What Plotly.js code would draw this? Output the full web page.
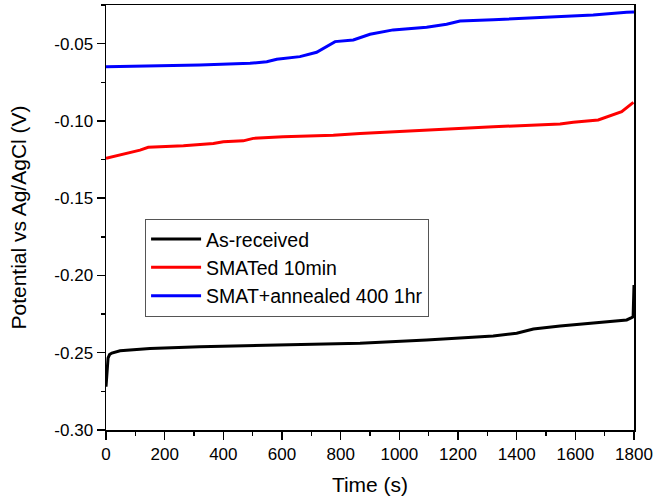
<!DOCTYPE html>
<html>
<head>
<meta charset="utf-8">
<script src="https://cdn.plot.ly/plotly-3.0.1.min.js"></script>
<style>html,body{margin:0;padding:0;background:#fff;}#chart{width:656px;height:500px;}</style>
</head>
<body>
<div id="chart"></div>
<script>
// Series names
const seriesNames = ["As-received", "SMATed 10min", "SMAT+annealed 400 1hr"];

// As-received (black)
const tBlack = [0, 2, 4, 7, 12, 20, 48, 100, 150, 320, 548, 700, 866, 1093, 1250, 1320, 1400, 1457, 1548, 1661, 1775, 1792, 1797, 1800];
const vBlack = [-0.272, -0.266, -0.258, -0.2535, -0.2512, -0.2502, -0.2487, -0.2478, -0.2472, -0.2461, -0.2450, -0.2445, -0.2439, -0.2418, -0.2402, -0.2392, -0.2374, -0.2346, -0.2327, -0.2310, -0.2288, -0.2273, -0.2268, -0.2062];

// SMATed 10min (red)
const tRed = [0, 48, 82, 116, 144, 264, 366, 400, 468, 502, 604, 775, 866, 979, 1093, 1116, 1320, 1548, 1593, 1678, 1718, 1758, 1798];
const vRed = [-0.1242, -0.1221, -0.1204, -0.1189, -0.1171, -0.1161, -0.1146, -0.1135, -0.1129, -0.1113, -0.1103, -0.1092, -0.1081, -0.1070, -0.1059, -0.1053, -0.1038, -0.1020, -0.1009, -0.0994, -0.0968, -0.0941, -0.0880];

// SMAT+annealed 400 1hr (blue)
const tBlue = [0, 320, 491, 548, 582, 661, 718, 752, 781, 843, 900, 979, 1093, 1161, 1207, 1320, 1434, 1548, 1661, 1775, 1800];
const vBlue = [-0.0649, -0.0638, -0.0627, -0.0617, -0.0601, -0.0584, -0.0556, -0.0519, -0.0487, -0.0476, -0.0439, -0.0411, -0.0394, -0.0374, -0.0353, -0.0346, -0.0335, -0.0325, -0.0314, -0.0297, -0.0295];

// Y tick values and labels (hyphen minus as in the original)
const yTickVals = [-0.30, -0.25, -0.20, -0.15, -0.10, -0.05];
const yTickText = ["-0.30", "-0.25", "-0.20", "-0.15", "-0.10", "-0.05"];

const FONT = "Liberation Sans, Arial, sans-serif";

const traces = [
  {x: tBlack, y: vBlack, name: seriesNames[0], type: "scatter", mode: "lines", line: {color: "#000000", width: 3}},
  {x: tRed, y: vRed, name: seriesNames[1], type: "scatter", mode: "lines", line: {color: "#ff0000", width: 3}},
  {x: tBlue, y: vBlue, name: seriesNames[2], type: "scatter", mode: "lines", line: {color: "#0000ff", width: 3}}
];

const layout = {
  width: 656, height: 500,
  margin: {l: 106, r: 22, t: 5, b: 70},
  paper_bgcolor: "#ffffff", plot_bgcolor: "#ffffff",
  font: {family: FONT, color: "#000000", size: 16},
  showlegend: true,
  legend: {
    x: 0.074, y: 0.497, xanchor: "left", yanchor: "top",
    bgcolor: "rgba(255,255,255,1)", bordercolor: "#555555", borderwidth: 1,
    font: {family: FONT, size: 19.5, color: "#000000"},
    itemwidth: 50, tracegroupgap: 0
  },
  xaxis: {
    range: [0, 1800], showgrid: false, zeroline: false,
    showline: true, linecolor: "#000000", linewidth: 1.5, mirror: true,
    ticks: "outside", ticklen: 8, tickwidth: 1.5, tickcolor: "#000000",
    dtick: 200, tick0: 0,
    minor: {ticks: "outside", ticklen: 4, tickwidth: 1.5, tickcolor: "#000000", dtick: 100, showgrid: false},
    tickfont: {family: FONT, size: 17},
    title: {text: "Time (s)", font: {family: FONT, size: 21}, standoff: 14}
  },
  yaxis: {
    range: [-0.30, -0.025], showgrid: false, zeroline: false,
    showline: true, linecolor: "#000000", linewidth: 1.5, mirror: true,
    ticks: "outside", ticklen: 8, tickwidth: 1.5, tickcolor: "#000000",
    tickmode: "array", tickvals: yTickVals, ticktext: yTickText,
    minor: {ticks: "outside", ticklen: 4, tickwidth: 1.5, tickcolor: "#000000", dtick: 0.025, tick0: -0.30, showgrid: false},
    tickfont: {family: FONT, size: 17},
    title: {text: "Potential vs Ag/AgCl (V)", font: {family: FONT, size: 21}, standoff: 22}
  }
};

Plotly.newPlot("chart", traces, layout, {displayModeBar: false, staticPlot: true});
</script>
</body>
</html>
